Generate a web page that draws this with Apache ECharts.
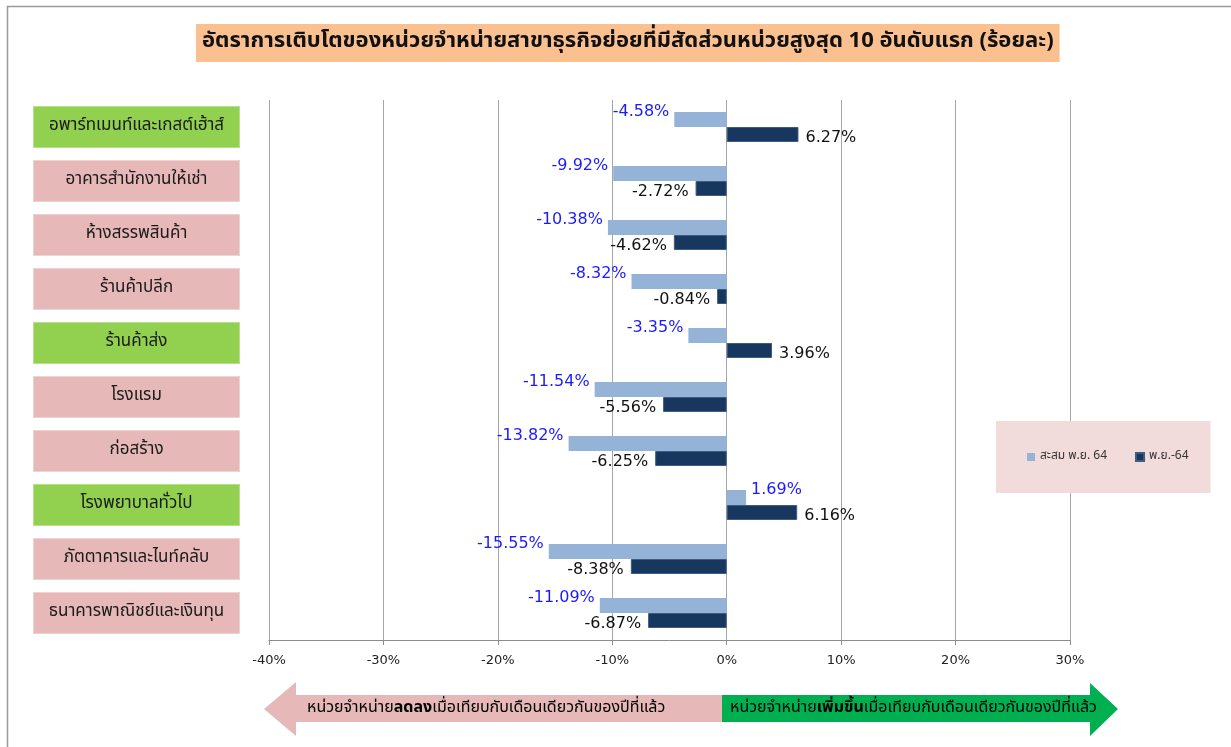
<!DOCTYPE html>
<html>
<head>
<meta charset="utf-8">
<script src="https://cdn.jsdelivr.net/npm/echarts@6/dist/echarts.min.js"></script>
<style>
  html, body { margin: 0; padding: 0; background: #fff; }
  #main { width: 1231px; height: 747px; }
</style>
</head>
<body>
<div id="main"></div>
<script>
// สาขาธุรกิจย่อย 10 อันดับแรก
var categories = [
  'อพาร์ทเมนท์และเกสต์เฮ้าส์',
  'อาคารสำนักงานให้เช่า',
  'ห้างสรรพสินค้า',
  'ร้านค้าปลีก',
  'ร้านค้าส่ง',
  'โรงแรม',
  'ก่อสร้าง',
  'โรงพยาบาลทั่วไป',
  'ภัตตาคารและไนท์คลับ',
  'ธนาคารพาณิชย์และเงินทุน'
]
var seriesNames = ['สะสม พ.ย. 64', 'พ.ย.-64']
var cumValues = [-4.58, -9.92, -10.38, -8.32, -3.35, -11.54, -13.82, 1.69, -15.55, -11.09]
var monthValues = [6.27, -2.72, -4.62, -0.84, 3.96, -5.56, -6.25, 6.16, -8.38, -6.87]
var xTicks = [-40, -30, -20, -10, 0, 10, 20, 30]

var titleText = 'อัตราการเติบโตของหน่วยจำหน่ายสาขาธุรกิจย่อยที่มีสัดส่วนหน่วยสูงสุด 10 อันดับแรก (ร้อยละ)'
var downText = ['หน่วยจำหน่าย', 'ลดลง', 'เมื่อเทียบกับเดือนเดียวกันของปีที่แล้ว']
var upText = ['หน่วยจำหน่าย', 'เพิ่มขึ้น', 'เมื่อเทียบกับเดือนเดียวกันของปีที่แล้ว']

var thai = 'Tahoma, "Noto Sans Thai", "Noto Sans", "DejaVu Sans", sans-serif'
var numFont = '"DejaVu Sans", Verdana, sans-serif'

var myChart = echarts.init(document.getElementById('main'))

function barData (vals, dist, off) {
  return vals.map(function (v) {
    return { value: v, label: { position: v < 0 ? 'left' : 'right', distance: dist, offset: off } }
  })
}

var boxStyle = function (color) {
  return {
    backgroundColor: color, borderColor: color === '#92d050' ? '#b6e08a' : '#efd2d1', borderWidth: 1,
    width: 205, height: 40, align: 'center', verticalAlign: 'middle',
    fontSize: 17, color: '#1a1a1a', fontFamily: thai
  }
}

myChart.setOption({
  backgroundColor: '#ffffff',
  animation: false,
  title: {
    text: titleText,
    left: 196, top: 24,
    padding: [6, 6, 6, 6],
    backgroundColor: '#fac090',
    textStyle: { fontSize: 22, fontWeight: 'bold', color: '#111', fontFamily: thai, lineHeight: 26 }
  },
  legend: {
    data: seriesNames,
    left: 996, top: 421,
    padding: [30, 22, 30, 31],
    backgroundColor: '#f2dcdb',
    itemWidth: 8, itemHeight: 8, itemGap: 28,
    icon: 'rect',
    textStyle: { fontSize: 12, color: '#333', fontFamily: thai }
  },
  grid: { left: 269, right: 161, top: 100, bottom: 107 },
  xAxis: {
    type: 'value',
    min: xTicks[0], max: xTicks[xTicks.length - 1], interval: 10,
    axisLine: { show: true, lineStyle: { color: '#8c8c8c' } },
    axisTick: { show: true, length: 5, lineStyle: { color: '#8c8c8c' } },
    axisLabel: { margin: 14, fontSize: 13, color: '#222', fontFamily: numFont,
      formatter: function (v) { return v + '%' } },
    splitLine: { show: true, lineStyle: { color: '#a6a6a6', width: 1 } }
  },
  yAxis: {
    type: 'category',
    inverse: true,
    data: categories,
    axisLine: { show: false },
    axisTick: { show: false },
    axisLabel: {
      margin: 30,
      formatter: function (v, i) { return '{' + (monthValues[i] > 0 ? 'g' : 'r') + '|' + v + '}' },
      rich: { g: boxStyle('#92d050'), r: boxStyle('#e6b8b7') }
    }
  },
  series: [
    {
      name: seriesNames[0], type: 'bar', barWidth: 15, barGap: '0%', barCategoryGap: '40%',
      itemStyle: { color: '#95b3d7' },
      label: { show: true, color: '#1a1aff', fontSize: 16, fontFamily: numFont,
        formatter: function (p) { return p.value.toFixed(2) + '%' } },
      data: barData(cumValues, 5, [0, -8])
    },
    {
      name: seriesNames[1], type: 'bar', barWidth: 15, barGap: '0%',
      itemStyle: { color: '#17375e', borderColor: '#3d5c82', borderWidth: 1 },
      label: { show: true, color: '#111', fontSize: 16, fontFamily: numFont,
        formatter: function (p) { return p.value.toFixed(2) + '%' } },
      data: barData(monthValues, 7, [0, 3])
    }
  ],
  graphic: [
    { type: 'rect', silent: true, z: -10, shape: { x: 7.5, y: 6.5, width: 1240, height: 760 },
      style: { fill: 'none', stroke: '#9a9a9a', lineWidth: 1.5 } },
    { type: 'polygon', shape: { points: [[264, 709], [296, 682], [296, 695], [722, 695], [722, 722], [296, 722], [296, 736]] },
      style: { fill: '#e6b8b7' } },
    { type: 'polygon', shape: { points: [[722, 695], [1090, 695], [1090, 683], [1118, 709], [1090, 736], [1090, 722], [722, 722]] },
      style: { fill: '#00b050' } },
    { type: 'text', style: {
      x: 307, y: 709, verticalAlign: 'middle',
      text: '{n|' + downText[0] + '}{b|' + downText[1] + '}{n|' + downText[2] + '}',
      rich: { n: { fontSize: 16, color: '#404040', fontFamily: thai }, b: { fontSize: 16, fontWeight: 'bold', color: '#404040', fontFamily: thai } } } },
    { type: 'text', style: {
      x: 730, y: 709, verticalAlign: 'middle',
      text: '{n|' + upText[0] + '}{b|' + upText[1] + '}{n|' + upText[2] + '}',
      rich: { n: { fontSize: 16, color: '#111', fontFamily: thai }, b: { fontSize: 16, fontWeight: 'bold', color: '#111', fontFamily: thai } } } }
  ]
})
</script>
</body>
</html>
